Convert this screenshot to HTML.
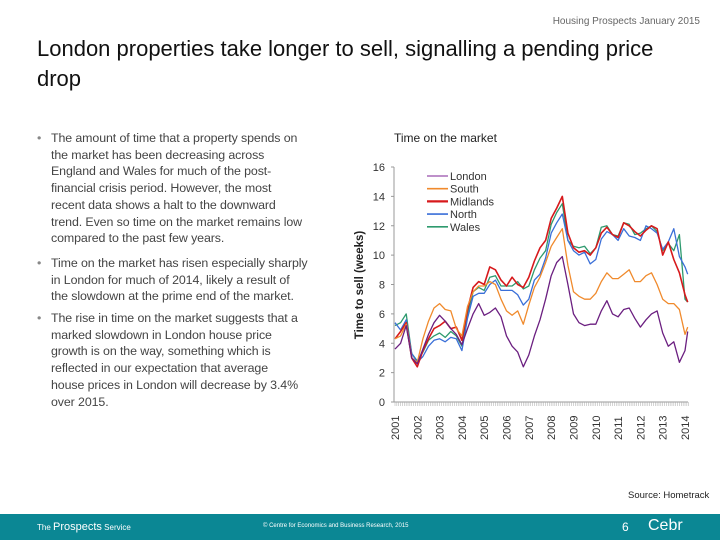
<!DOCTYPE html>
<html><head><meta charset="utf-8"><style>
body{margin:0;width:720px;height:540px;position:relative;background:#fff;font-family:"Liberation Sans",sans-serif;overflow:hidden}
.hdr{position:absolute;right:20px;top:16px;font-size:10px;color:#666}
.title{position:absolute;left:37px;top:34px;font-size:22px;line-height:30px;color:#111;width:640px}
.bul{position:absolute;left:37px;font-size:12.4px;line-height:16.7px;color:#444;letter-spacing:-0.1px}
.bul .d{position:absolute;left:0;top:0;color:#888}
.bul .t{margin-left:14px;white-space:nowrap}
.src{position:absolute;left:628px;top:490px;font-size:9.5px;color:#222}
.foot{position:absolute;left:0;top:514px;width:720px;height:26px;background:#0b8794;color:#fff}
</style></head><body>
<div class="hdr">Housing Prospects January 2015</div>
<div class="title">London properties take longer to sell, signalling a pending price drop</div>
<div class="bul" style="top:130px"><span class="d">•</span><div class="t">The amount of time that a property spends on<br>the market has been decreasing across<br>England and Wales for much of the post-<br>financial crisis period. However, the most<br>recent data shows a halt to the downward<br>trend. Even so time on the market remains low<br>compared to the past few years.</div></div>
<div class="bul" style="top:255px"><span class="d">•</span><div class="t">Time on the market has risen especially sharply<br>in London for much of 2014, likely a result of<br>the slowdown at the prime end of the market.</div></div>
<div class="bul" style="top:310px"><span class="d">•</span><div class="t">The rise in time on the market suggests that a<br>marked slowdown in London house price<br>growth is on the way, something which is<br>reflected in our expectation that average<br>house prices in London will decrease by 3.4%<br>over 2015.</div></div>
<div class="src">Source:  Hometrack</div>
<div class="foot">
<span style="position:absolute;left:37px;top:7px;font-size:8px">The <span style="font-size:11px">Prospects</span> Service</span>
<span style="position:absolute;left:263px;top:9px;font-size:6px">© Centre for Economics and Business Research, 2015</span>
<span style="position:absolute;left:622px;top:6px;font-size:12px">6</span>
<span style="position:absolute;left:648px;top:3px;font-size:16px">Cebr</span>
</div>
<svg id="chart" width="720" height="540" style="position:absolute;left:0;top:0"></svg>
<script>
const years=[2001,2002,2003,2004,2005,2006,2007,2008,2009,2010,2011,2012,2013,2014];
const yTicks=[0,2,4,6,8,10,12,14,16];
const seriesNames=["London","South","Midlands","North","Wales"];
const seriesColors=["#6b1f80","#f08a2c","#d7191c","#3a6fd8","#2e9a6e"];
const legendColors=["#a86cb8","#f08a2c","#d7191c","#3a6fd8","#2e9a6e"];
const london=[3.6,4.0,5.2,3.0,2.6,3.6,4.6,5.4,5.9,5.5,5.0,4.6,3.9,5.0,6.0,6.7,5.9,6.1,6.4,5.8,4.5,3.8,3.4,2.4,3.2,4.5,5.6,7.0,8.6,9.5,9.9,8.0,6.0,5.4,5.2,5.3,5.3,6.2,6.9,6.0,5.8,6.3,6.4,5.7,5.1,5.6,6.0,6.2,4.7,3.8,4.1,2.7,3.5,4.8];
const south=[4.3,4.5,5.3,3.0,2.7,4.3,5.5,6.4,6.7,6.3,6.2,5.0,4.5,6.5,7.5,7.9,7.9,8.2,8.0,7.0,6.2,5.9,6.2,5.3,6.6,7.8,8.5,9.5,10.6,11.2,11.8,9.3,7.5,7.2,7.0,7.0,7.4,8.2,8.8,8.4,8.4,8.7,9.0,8.2,8.2,8.6,8.8,8.0,7.0,6.7,6.7,6.3,4.6,5.1];
const midlands=[4.3,4.8,5.4,3.0,2.4,3.5,4.3,5.0,5.2,5.5,5.0,5.1,4.2,6.3,7.8,8.2,8.0,9.2,9.0,8.3,7.9,8.5,8.0,7.8,8.5,9.6,10.5,11.0,12.5,13.2,14.0,11.5,10.5,10.2,10.3,10.0,10.5,11.5,11.9,11.4,11.2,12.2,12.0,11.6,11.3,11.7,12.0,11.8,10.0,10.9,9.7,8.8,7.3,6.8];
const north=[5.4,4.9,5.6,3.3,2.7,3.1,3.8,4.2,4.3,4.1,4.4,4.3,3.5,5.7,7.2,7.4,7.4,8.0,8.3,7.6,7.6,7.6,7.3,6.6,7.0,8.3,8.7,9.8,11.5,12.2,12.8,11.0,10.3,10.0,10.2,9.4,9.7,11.1,11.6,11.4,11.0,11.8,11.3,11.2,11.0,12.0,11.8,11.5,10.4,10.9,11.8,9.9,9.2,8.7];
const wales=[5.2,5.4,6.0,3.3,2.8,3.4,4.2,4.5,4.7,4.4,4.8,4.5,3.8,6.0,7.5,7.8,7.6,8.5,8.6,7.9,7.9,7.9,8.2,7.7,7.9,9.0,9.8,10.3,12.1,12.9,13.5,11.0,10.6,10.5,10.6,10.1,10.5,11.9,12.0,11.4,11.3,12.2,12.1,11.4,11.5,11.8,12.0,11.6,10.3,10.8,10.3,11.4,7.0,6.8];
const allSeries=[london,south,midlands,north,wales];
const NS="http://www.w3.org/2000/svg";
const svg=document.getElementById('chart');
const X0=395,X1=685,Y0=402,Y1=167;
function xs(t){return X0+(t-2001)/(2014-2001)*(X1-X0);}
function ys(v){return Y0-(v/16)*(Y0-Y1);}
function timeAt(i,n){return i<n-1?2001+i*0.25:2014.12;}
function mk(tag,attrs){const e=document.createElementNS(NS,tag);for(const k in attrs)e.setAttribute(k,attrs[k]);svg.appendChild(e);return e;}
let t=mk('text',{x:394,y:142,'font-size':12,fill:'#222','font-family':'Liberation Sans, sans-serif'});t.textContent='Time on the market';


let a=mk('line',{x1:X0-1,y1:Y1,x2:X0-1,y2:Y0,stroke:'#999','stroke-width':1});


a=mk('line',{x1:X0-1,y1:Y0,x2:X1+3,y2:Y0,stroke:'#999','stroke-width':1});


for(let m=0;m<=13*12+2;m++){const x=X0+m/12*(X1-X0)/13;const tk=mk('line',{x1:x,y1:Y0,x2:x,y2:Y0+4,stroke:'#aaa','stroke-width':0.5});

}
yTicks.forEach(v=>{const tk=mk('line',{x1:X0-4,y1:ys(v),x2:X0-1,y2:ys(v),stroke:'#999'});


const l=mk('text',{x:X0-10,y:ys(v)+4,'font-size':11,'text-anchor':'end',fill:'#333'});l.textContent=v;

});
years.forEach(yr=>{const x=xs(yr)+4;const l=mk('text',{x:x,y:440,'font-size':11,fill:'#333',transform:`rotate(-90 ${x} 440)`});l.textContent=yr;

});
const yl=mk('text',{x:363,y:285,'font-size':11.5,'font-weight':'bold','text-anchor':'middle',fill:'#222',transform:'rotate(-90 363 285)'});yl.textContent='Time to sell (weeks)';


[4,3,2,1,0].forEach(si=>{const s=allSeries[si];const pts=s.map((v,i)=>xs(timeAt(i,s.length)).toFixed(1)+','+ys(v).toFixed(1)).join(' ');
const p=mk('polyline',{points:pts,fill:'none',stroke:seriesColors[si],'stroke-width':si==2?1.6:1.3,'stroke-linejoin':'round'});

});
seriesNames.forEach((n,i)=>{const y=176+i*12.7;
const ln=mk('line',{x1:427,y1:y,x2:448,y2:y,stroke:legendColors[i],'stroke-width':i==2?2.2:1.6});


const l=mk('text',{x:450,y:y+4,'font-size':11,fill:'#333'});l.textContent=n;

});
</script>
</body></html>
